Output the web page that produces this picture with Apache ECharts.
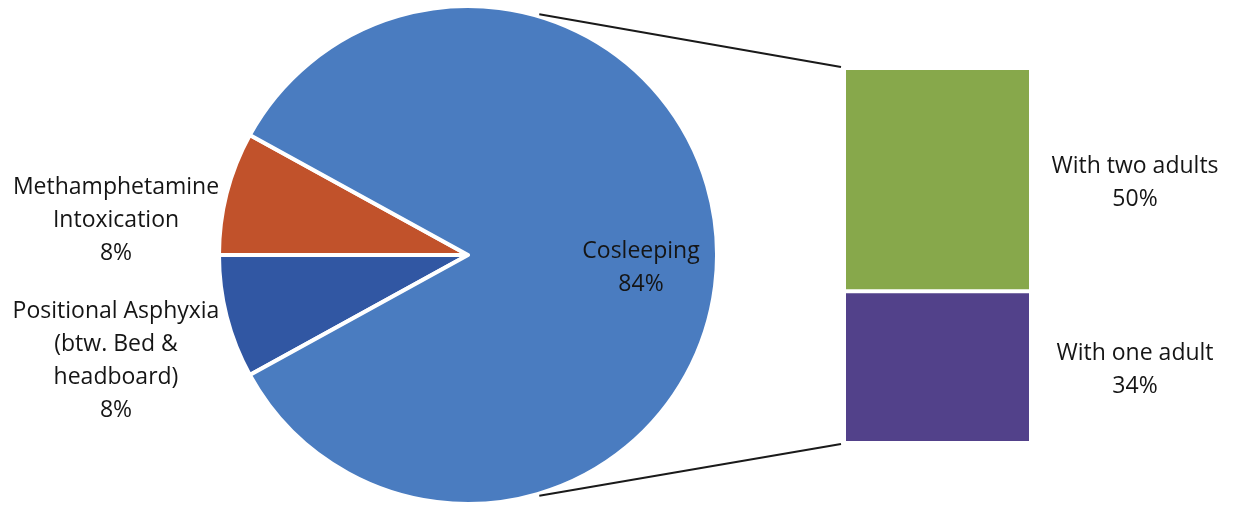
<!DOCTYPE html>
<html>
<head>
<meta charset="utf-8">
<script src="https://cdn.jsdelivr.net/npm/echarts@6/dist/echarts.min.js"></script>
<style>html,body{margin:0;padding:0;background:#fff;}#c{width:1233px;height:505px;}</style>
</head>
<body>
<div id="c"></div>
<script>
// Data
const pieNames = ['Positional Asphyxia\n(btw. Bed &\nheadboard)', 'Methamphetamine\nIntoxication', 'Cosleeping'];
const pieValues = [8, 8, 84];
const pieColors = ['#3157a3', '#c1522b', '#4a7cc0'];
// stacked bottom -> top
const barNames = ['With one adult', 'With two adults'];
const barValues = [34, 50];
const barColors = ['#52418a', '#87a84b'];

const FONT = '"Open Sans", "Liberation Sans", sans-serif';
const CX = 468, CY = 255, R = 249;

const chart = echarts.init(document.getElementById('c'), null, {renderer: 'canvas'});

const labelSpots = {
  'Cosleeping': [641, 268],
  'Methamphetamine\nIntoxication': [116, 220],
  'Positional Asphyxia\n(btw. Bed &\nheadboard)': [116, 361]
};

const option = {
  backgroundColor: '#fff',
  animation: false,
  grid: {left: 844, right: 202, top: 68, bottom: 62},
  xAxis: {type: 'category', data: ['x'], show: false},
  yAxis: {type: 'value', min: 0, max: barValues.reduce((a, b) => a + b, 0), show: false},
  series: [
    {
      type: 'pie',
      center: [CX, CY],
      radius: R,
      startAngle: 180 + 360 * pieValues[0] / 100,
      clockwise: true,
      data: pieNames.map((n, i) => ({name: n, value: pieValues[i], itemStyle: {color: pieColors[i]}})),
      itemStyle: {borderColor: '#fff', borderWidth: 4},
      label: {
        show: true,
        formatter: p => p.name + '\n' + p.value + '%',
        fontFamily: FONT,
        fontSize: 23,
        lineHeight: 33,
        color: '#151515',
        align: 'center',
        overflow: 'none',
        width: 300
      },
      labelLine: {show: false},
      labelLayout: p => {
        const name = pieNames[p.dataIndex];
        const s = labelSpots[name];
        return {x: s[0], y: s[1], align: 'center', verticalAlign: 'middle'};
      },
      emphasis: {disabled: true}
    },
    ...barNames.map((n, i) => ({
      type: 'bar',
      name: n,
      stack: 'b',
      barWidth: '100%',
      data: [barValues[i]],
      itemStyle: {color: barColors[i], borderColor: '#fff', borderWidth: 2},
      label: {
        show: true,
        position: 'right',
        distance: 104,
        align: 'center',
        offset: [0, 3],
        formatter: p => p.seriesName + '\n' + p.value + '%',
        fontFamily: FONT,
        fontSize: 23,
        lineHeight: 33,
        color: '#151515'
      },
      emphasis: {disabled: true}
    }))
  ]
};
chart.setOption(option);

// connector lines from pie edge to bar corners
const total = barValues.reduce((a, b) => a + b, 0);
const topRight = chart.convertToPixel({gridIndex: 0}, ['x', total]);
const bottom = chart.convertToPixel({gridIndex: 0}, ['x', 0]);
const barLeft = 845;
const ang = 73.5 * Math.PI / 180;
const rr = R + 2;
chart.setOption({
  graphic: [
    {type: 'line', shape: {x1: CX + rr * Math.cos(ang), y1: CY - rr * Math.sin(ang), x2: barLeft - 4, y2: topRight[1] - 1},
      style: {stroke: '#1a1a1a', lineWidth: 2}, z: 10},
    {type: 'line', shape: {x1: CX + rr * Math.cos(ang), y1: CY + rr * Math.sin(ang), x2: barLeft - 4, y2: bottom[1] + 1},
      style: {stroke: '#1a1a1a', lineWidth: 2}, z: 10}
  ]
});
</script>
</body>
</html>
